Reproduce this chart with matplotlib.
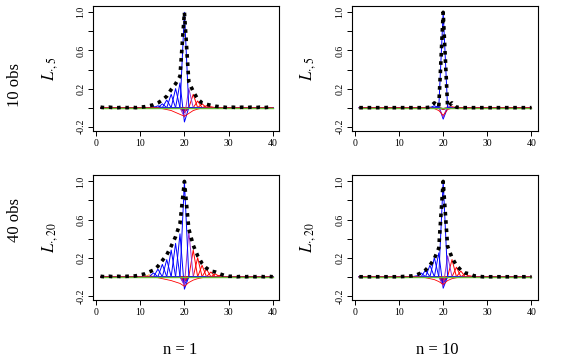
import numpy as np
import matplotlib
matplotlib.use("Agg")
import matplotlib.pyplot as plt

plt.rcParams['font.family'] = ['Liberation Serif', 'DejaVu Serif']
plt.rcParams['mathtext.fontset'] = 'stix'

x = np.arange(1, 41)

# envelope (black dashed) per panel, x = 1..40
env_tl = [0.005, 0.0, 0.005, 0.0, 0.0, 0.005, 0.0, 0.005, 0.0, 0.005,
          0.01, 0.02, 0.03, 0.05, 0.08, 0.12, 0.19, 0.25, 0.33, 1.0,
          0.27, 0.17, 0.09, 0.05, 0.035, 0.025, 0.015, 0.01, 0.005, 0.0,
          0.005, 0.0, 0.005, 0.0, 0.005, 0.0, 0.005, 0.0, 0.005, 0.0]
env_tr = [0.0, 0.0, 0.0, 0.0, 0.0, 0.0, 0.0, 0.0, 0.0, 0.0,
          0.0, 0.0, 0.0, 0.0, 0.0, 0.0, 0.005, 0.05, 0.01, 1.0,
          0.01, 0.05, 0.005, 0.0, 0.0, 0.0, 0.0, 0.0, 0.0, 0.0,
          0.0, 0.0, 0.0, 0.0, 0.0, 0.0, 0.0, 0.0, 0.0, 0.0]
env_bl = [0.005, 0.0, 0.005, 0.0, 0.005, 0.0, 0.005, 0.005, 0.01, 0.02,
          0.03, 0.05, 0.07, 0.11, 0.17, 0.23, 0.32, 0.42, 0.56, 1.0,
          0.5, 0.33, 0.22, 0.14, 0.09, 0.06, 0.05, 0.03, 0.015, 0.005,
          0.005, 0.0, 0.005, 0.0, 0.005, 0.0, 0.005, 0.0, 0.005, 0.0]
env_br = [0.0, 0.0, 0.0, 0.0, 0.0, 0.0, 0.0, 0.0, 0.0, 0.0,
          0.003, 0.005, 0.01, 0.02, 0.04, 0.07, 0.12, 0.19, 0.3, 1.0,
          0.32, 0.2, 0.12, 0.07, 0.04, 0.03, 0.01, 0.005, 0.0, 0.0,
          0.0, 0.0, 0.0, 0.0, 0.0, 0.0, 0.0, 0.0, 0.0, 0.0]

# spike height of coloured line j at x = j
spike_tl = [0.0] * 12 + [0.01, 0.02, 0.04, 0.08, 0.14, 0.2, 0.26, 1.0,
            0.2, 0.14, 0.07, 0.04, 0.02, 0.01] + [0.0] * 14
spike_tr = [0.0] * 16 + [0.005, 0.02, 0.02, 1.0,
            0.02, 0.01, 0.005] + [0.0] * 17
spike_bl = [0.0] * 10 + [0.01, 0.02, 0.04, 0.08, 0.13, 0.18, 0.28, 0.35, 0.45, 1.0,
            0.47, 0.28, 0.2, 0.12, 0.08, 0.05, 0.03, 0.015] + [0.0] * 12
spike_br = [0.0] * 13 + [0.01, 0.04, 0.07, 0.12, 0.2, 0.25, 1.0,
            0.22, 0.18, 0.1, 0.06, 0.03, 0.01] + [0.0] * 14

# value of coloured line j at x = 20
dip_tl = [0.0] * 14 + [-0.01, -0.02, -0.03, -0.05, -0.15, 0.0,
          -0.1, -0.05, -0.03, -0.02, -0.01] + [0.0] * 15
dip_tr = [0.0] * 16 + [-0.01, -0.02, -0.12, 0.0,
          -0.1, -0.02, -0.01] + [0.0] * 17
dip_bl = [0.0] * 13 + [-0.01, -0.02, -0.03, -0.05, -0.08, -0.13, 0.0,
          -0.09, -0.05, -0.03, -0.02, -0.01] + [0.0] * 15
dip_br = [0.0] * 13 + [-0.01, -0.02, -0.03, -0.05, -0.07, -0.12, 0.0,
          -0.1, -0.05, -0.03, -0.02, -0.01] + [0.0] * 15

# smooth negative curve (red) per panel
neg_tl = [0.0] * 14 + [-0.01, -0.02, -0.03, -0.05, -0.07, -0.09,
          -0.06, -0.03, -0.015, -0.005] + [0.0] * 16
neg_tr = [0.0] * 17 + [-0.01, -0.03, -0.08, -0.02, -0.005] + [0.0] * 18
neg_bl = [0.0] * 12 + [-0.005, -0.01, -0.02, -0.03, -0.04, -0.055, -0.07, -0.1,
          -0.06, -0.035, -0.02, -0.01, -0.005] + [0.0] * 15
neg_br = [0.0] * 14 + [-0.005, -0.01, -0.02, -0.03, -0.05, -0.08,
          -0.04, -0.02, -0.01, -0.005] + [0.0] * 16

# colour of coloured line j
line_cols = (['#66BB33'] * 10 + ['#FF9933'] * 2 + ['blue'] * 8 + ['#9933CC'] +
             ['red'] * 7 + ['#FF9933'] * 3 + ['#66BB33'] * 9)

panels = [
    (env_tl, spike_tl, dip_tl, neg_tl, r'$L_{\cdot,5}$'),
    (env_tr, spike_tr, dip_tr, neg_tr, r'$L_{\cdot,5}$'),
    (env_bl, spike_bl, dip_bl, neg_bl, r'$L_{\cdot,20}$'),
    (env_br, spike_br, dip_br, neg_br, r'$L_{\cdot,20}$'),
]
boxes = [(0.1626, 0.635), (0.615, 0.635), (0.1626, 0.164), (0.615, 0.164)]

fig = plt.figure(figsize=(5.72, 3.59), dpi=100)

for (env, spike, dip, neg, ylab), (left, bottom) in zip(panels, boxes):
    ax = fig.add_axes([left, bottom, 0.325, 0.348])
    # far lines first so the ones near the centre sit on top
    order = sorted(range(40), key=lambda j: -abs(j - 19))
    for j in order:
        y = np.zeros(40)
        if j != 19:
            y[19] = dip[j]
        y[j] = spike[j]
        ax.plot(x, y, color=line_cols[j], lw=0.7)
    ax.plot(x, neg, color='red', lw=0.6)
    ax.plot(x, np.zeros(40), color='#66BB33', lw=1.0)
    ax.plot(x, env, color='black', lw=2.6, linestyle=(0, (1.0, 1.3)))
    ax.set_xlim(-0.7, 41.4)
    ax.set_ylim(-0.245, 1.065)
    ax.set_xticks([0, 10, 20, 30, 40])
    ax.set_yticks([-0.2, 0.0, 0.2, 0.4, 0.6, 0.8, 1.0])
    ax.set_yticklabels(['-0.2', '', '0.2', '', '0.6', '', '1.0'],
                       rotation=90, va='center')
    ax.tick_params(direction='out', length=3.5, width=0.7, labelsize=7, pad=2)
    for s in ax.spines.values():
        s.set_linewidth(0.8)
    ax.set_ylabel(ylab, fontsize=12, labelpad=12)

fig.text(0.027, 0.763, '10 obs', rotation=90, ha='center', va='center', fontsize=12)
fig.text(0.027, 0.387, '40 obs', rotation=90, ha='center', va='center', fontsize=12)
fig.text(0.315, 0.025, 'n = 1', ha='center', va='center', fontsize=12)
fig.text(0.765, 0.025, 'n = 10', ha='center', va='center', fontsize=12)

fig.savefig('out.png', dpi=100)
